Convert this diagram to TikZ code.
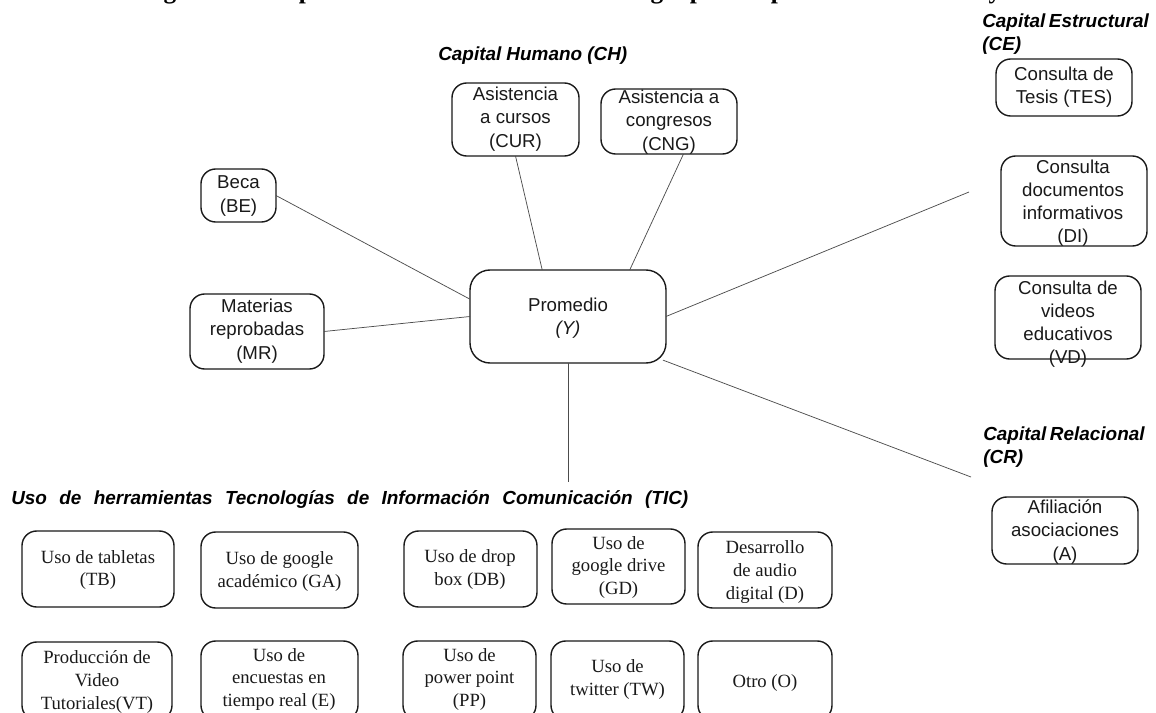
\documentclass[tikz,border=0pt]{standalone}
\usepackage{fontspec}
\setmainfont{Liberation Serif}
\setsansfont{Liberation Sans}
\tikzset{
  x=0.75pt,y=-0.75pt,
  boxn/.style={draw=black!90,line width=1.05pt,rounded corners=11pt,inner sep=0pt,outer sep=0pt},
  bigbox/.style={boxn,rounded corners=15pt},
  sanstxt/.style={inner sep=0pt,align=center,font=\sffamily\fontsize{14}{17.4}\selectfont,text=black!90},
  seriftxt/.style={inner sep=0pt,align=center,font=\fontsize{14}{17.2}\selectfont,text=black!90},
  head/.style={inner sep=0pt,anchor=west,font=\sffamily\bfseries\itshape\fontsize{14.2}{17.2}\selectfont},
  toptxt/.style={inner sep=0pt,anchor=base,font=\bfseries\fontsize{19}{22}\selectfont},
  link/.style={draw=black!70,line width=0.55pt}
}
\newcommand{\bxn}[6][boxn]{\node[#1,minimum width={(#5-#3)*0.75pt},minimum height={(#6-#4)*0.75pt}] (#2) at ({(#3+#5)/2},{(#4+#6)/2}) {};}
\begin{document}
\begin{tikzpicture}
\useasboundingbox (0,0) rectangle (1156,713);
\clip (0,0) rectangle (1156,713);
% clipped remains of the line above the figure
\node[toptxt] (t1) at (170,-1) {g};
\node[toptxt] (t2) at (306,-1) {p};
\node[toptxt] (t3) at (657,-1) {g};
\node[toptxt] (t4) at (697,-1) {p};
\node[toptxt] (t5) at (778,-1) {p};
\node[toptxt] (t6) at (995,-1) {y};
% headings
\node[head] (hch) at (438,56) {\makebox[141.75pt][s]{Capital Humano (CH)}};
\node[head] (hce1) at (982,23) {\makebox[124.5pt][s]{Capital Estructural}};
\node[head] (hce2) at (982,46) {(CE)};
\node[head] (hcr1) at (983,436) {\makebox[120pt][s]{Capital Relacional}};
\node[head] (hcr2) at (983,459) {(CR)};
\node[head] (htic) at (11,500) {\makebox[507.75pt][s]{Uso de herramientas Tecnologías de Información Comunicación (TIC)}};
% boxes, sans
\bxn[bigbox]{prom}{470}{270}{666}{363}
\bxn{beca}{201}{169}{276}{222}
\bxn{mr}{190}{294}{324}{369}
\bxn{cur}{452}{83}{579}{156}
\bxn{cng}{601}{89}{737}{154}
\bxn{tes}{996}{59}{1132}{116}
\bxn{di}{1001}{156}{1147}{246}
\bxn{vd}{995}{276}{1141}{359}
\bxn{afi}{992}{497}{1138}{564}
\node[sanstxt] (tprom) at (568,318) {Promedio\\\textit{(Y)}};
\node[sanstxt] (tbeca) at (238.5,196) {Beca\\(BE)};
\node[sanstxt] (tmr) at (257,331) {Materias\\reprobadas\\(MR)};
\node[sanstxt] (tcur) at (515.5,119) {Asistencia\\a cursos\\(CUR)};
\node[sanstxt] (tcng) at (669,122) {Asistencia a\\congresos\\(CNG)};
\node[sanstxt] (ttes) at (1064,87) {Consulta de\\Tesis (TES)};
\node[sanstxt] (tdi) at (1073,203) {Consulta\\documentos\\informativos\\(DI)};
\node[sanstxt] (tvd) at (1068,324) {Consulta de\\videos\\educativos\\(VD)};
\node[sanstxt] (tafi) at (1065,532) {Afiliación\\asociaciones\\(A)};
% boxes, serif
\bxn{tb}{22}{531}{174}{607}
\bxn{ga}{201}{532}{358}{608}
\bxn{db}{404}{531}{537}{607}
\bxn{gd}{552}{529}{685}{604}
\bxn{dd}{698}{532}{832}{608}
\bxn{vt}{22}{642}{172}{720}
\bxn{ee}{201}{641}{358}{720}
\bxn{pp}{403}{641}{536}{720}
\bxn{tw}{551}{641}{684}{720}
\bxn{oo}{698}{641}{832}{720}
\node[seriftxt] (ttb) at (98,570) {Uso de tabletas\\(TB)};
\node[seriftxt] (tga) at (279.5,571.5) {Uso de google\\académico (GA)};
\node[seriftxt] (tdb) at (470,569.5) {Uso de drop\\box (DB)};
\node[seriftxt] (tgd) at (618.5,567.5) {Uso de\\google drive\\(GD)};
\node[seriftxt] (tdd) at (765,572) {Desarrollo\\de audio\\digital (D)};
\node[seriftxt] (tvt) at (97,682) {Producción de\\Video\\Tutoriales(VT)};
\node[seriftxt] (tee) at (279,679.5) {Uso de\\encuestas en\\tiempo real (E)};
\node[seriftxt] (tpp) at (469.5,679.5) {Uso de\\power point\\(PP)};
\node[seriftxt] (ttw) at (617.5,679.5) {Uso de\\twitter (TW)};
\node[seriftxt] (too) at (765,683) {Otro (O)};
% free ends
\coordinate (ece) at (969,192);
\coordinate (ecr) at (971,477);
\coordinate (etic) at (568,482);
% connectors
\draw[link] (beca.east) -- (prom.170.4);
\draw[link] (mr.east) -- (prom.180.9);
\draw[link] (cur.south) -- (prom.119.2);
\draw[link] (cng.-66.7) -- (prom.37.8);
\draw[link] (prom.0) -- (ece);
\draw[link] ([xshift=-2.25pt]prom.-24.6) -- (ecr);
\draw[link] (prom.south) -- (etic);
\end{tikzpicture}
\end{document}
